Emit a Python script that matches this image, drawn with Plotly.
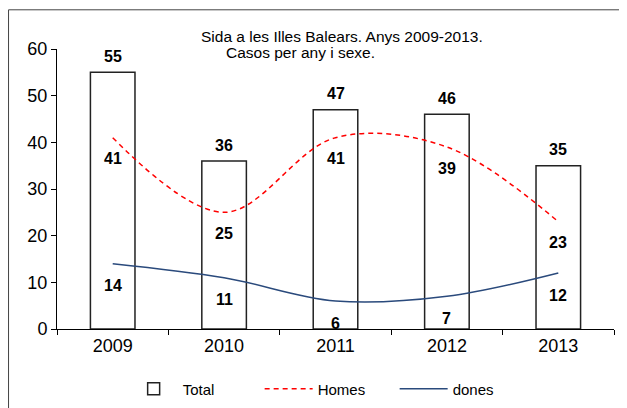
import plotly.graph_objects as go

# Sida a les Illes Balears, casos per any i sexe
years = ["2009", "2010", "2011", "2012", "2013"]
total = [55, 36, 47, 46, 35]
homes = [41, 25, 41, 39, 23]
dones = [14, 11, 6, 7, 12]

FONT = "Liberation Sans, Arial, sans-serif"

fig = go.Figure()

fig.add_trace(go.Bar(
    x=years, y=total, name="Total",
    marker=dict(color="white", line=dict(color="#222222", width=1.5)),
))
fig.add_trace(go.Scatter(
    x=years, y=homes, name="Homes", mode="lines",
    line=dict(color="#ff0000", width=1.5, dash="5px,4px", shape="spline", smoothing=1),
))
fig.add_trace(go.Scatter(
    x=years, y=dones, name="dones", mode="lines",
    line=dict(color="#2a4a7c", width=1.5, shape="spline", smoothing=1),
))

# data labels (x given as category index: numeric-looking names would be read as indices)
label_font = dict(family=FONT, size=16, color="black")
for i, v in enumerate(total):
    fig.add_annotation(x=i, y=v, text=f"<b>{v}</b>", showarrow=False, yshift=16, font=label_font)
for i, v in enumerate(homes):
    fig.add_annotation(x=i, y=v, text=f"<b>{v}</b>", showarrow=False, yshift=-21, font=label_font)
for i, v in enumerate(dones):
    fig.add_annotation(x=i, y=v, text=f"<b>{v}</b>", showarrow=False, yshift=-22, font=label_font)

# title (two lines, as in the original)
fig.add_annotation(xref="paper", yref="paper", x=0.512, y=1.046, text="Sida a les Illes Balears. Anys 2009-2013.",
                   showarrow=False, xanchor="center", yanchor="middle", font=dict(family=FONT, size=15.5, color="black"))
fig.add_annotation(xref="paper", yref="paper", x=0.3, y=0.986, text="Casos per any i sexe.",
                   showarrow=False, xanchor="left", yanchor="middle", font=dict(family=FONT, size=15.5, color="black"))

# outer chart frame
fig.add_shape(type="rect", xref="paper", yref="paper", x0=-0.087, y0=-0.4, x1=1.2, y1=1.14,
              line=dict(color="#444444", width=1), layer="below")

fig.update_layout(
    width=627, height=408,
    margin=dict(l=49, r=21, t=41, b=87, autoexpand=False),
    paper_bgcolor="white", plot_bgcolor="white",
    bargap=0.6,
    showlegend=True,
    legend=dict(orientation="h", x=0.485, y=-0.214, xanchor="center", yanchor="middle",
                font=dict(family=FONT, size=15, color="black"), itemwidth=48,
                entrywidth=72, entrywidthmode="pixels"),
    font=dict(family=FONT, color="black"),
)
fig.update_xaxes(
    type="category", range=[-0.5, 4.5], automargin=False,
    showline=True, linecolor="black", linewidth=1,
    ticks="outside", ticklen=5, tickcolor="black", tickson="boundaries",
    showgrid=False, tickfont=dict(size=18, family=FONT, color="black"),
)
fig.update_yaxes(
    range=[0, 60], dtick=10, automargin=False, showline=True, linecolor="black", linewidth=1,
    ticks="outside", ticklen=5, tickcolor="black", showgrid=False, zeroline=False,
    tickfont=dict(size=18, family=FONT, color="black"),
)

fig.write_html("out.html")
